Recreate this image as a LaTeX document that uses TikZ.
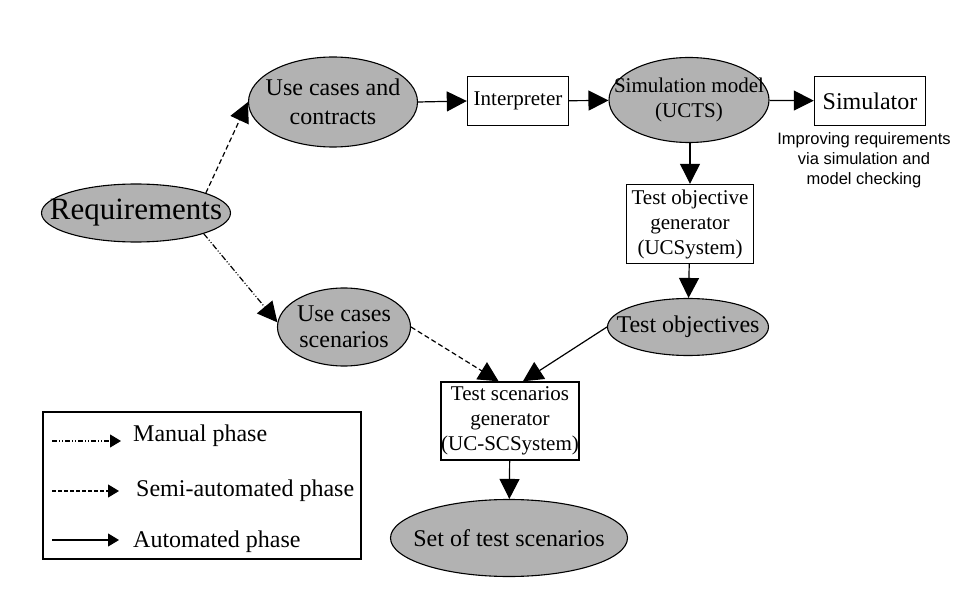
\documentclass[tikz,border=0pt]{standalone}
\usepackage{fontspec}
\setmainfont{Liberation Serif}
\newfontfamily\notefont{Liberation Sans}
\usepackage{xcolor}
\usepackage{tikz}
\usetikzlibrary{positioning}
\usetikzlibrary{arrows.meta,shapes}

\definecolor{ellgray}{RGB}{178,178,178}

\begin{document}
\begin{tikzpicture}[x=1pt, y=-1pt,
  phase/.style={ellipse, draw, line width=1.1pt, fill=ellgray, inner sep=0pt},
  phasetext/.style={align=center, inner sep=0pt},
  tool/.style={rectangle, draw, line width=1.4pt, fill=white, inner sep=0pt, align=center,
    font=\fontsize{21}{25}\selectfont},
  auto arrow/.style={draw, line width=1.2pt, -{Triangle[length=20pt,width=20pt]}},
  semi arrow/.style={auto arrow, dash pattern=on 5pt off 3pt},
  manual arrow/.style={auto arrow, dash pattern=on 6pt off 2pt on 1pt off 2pt on 1pt off 2pt},
  key arrow/.style={draw, line width=1.1pt, -{Triangle[length=11pt,width=13pt]}},
  keytext/.style={anchor=west, inner sep=0pt, font=\fontsize{24}{28}\selectfont}]
 \useasboundingbox (0,0) rectangle (977,612);

 %phases
 \node[phase, minimum width=189, minimum height=58,
   label={[phasetext, font=\fontsize{31}{34}\selectfont]center:Requirements}] (req) at (136,213) {};
 \node[phase, minimum width=169, minimum height=90,
   label={[phasetext, font=\fontsize{24}{29}\selectfont]center:Use cases and\\contracts}] (ucc) at (333,102) {};
 \node[phase, minimum width=160, minimum height=85,
   label={[phasetext, font=\fontsize{21}{25}\selectfont]center:Simulation model\\(UCTS)}] (sim) at (689,100) {};
 \node[phase, minimum width=161, minimum height=57,
   label={[phasetext, font=\fontsize{24}{28}\selectfont]center:Test objectives}] (tobj) at (688,327) {};
 \node[phase, minimum width=133, minimum height=78,
   label={[phasetext, font=\fontsize{24}{26}\selectfont]center:Use cases\\scenarios}] (ucs) at (344,327) {};
 \node[phase, minimum width=237, minimum height=77,
   label={[phasetext, font=\fontsize{24}{28}\selectfont]center:Set of test scenarios}] (set) at (509,538) {};

 %tools
 \node[tool, minimum width=101, minimum height=49] (interp) at (518,101) {Interpreter};
 \node[tool, minimum width=111, minimum height=49, font=\fontsize{24}{28}\selectfont] (simr) at (870,101) {Simulator};
 \node[tool, minimum width=127, minimum height=79] (tog) at (690,224) {Test objective\\generator\\(UCSystem)};
 \node[tool, minimum width=137, minimum height=78] (tsg) at (510,421) {Test scenarios\\generator\\(UC-SCSystem)};

 %note
 \node[align=center, inner sep=0pt, font=\notefont\fontsize{16.5}{20}\selectfont] (note) at (864,160)
   {Improving requirements\\via simulation and\\model checking};

 %lines
 \path[semi arrow] (req.16) -- (ucc.west);
 \path[manual arrow] (req.-17) -- (ucs.176);
 \path[auto arrow] (ucc.east) -- (interp.west);
 \path[auto arrow] (interp) -- (sim);
 \path[auto arrow] (sim) -- (simr);
 \path[auto arrow] (sim.south -| tog.north) -- (tog.north);
 \path[auto arrow] (tog) -- (tobj);
 \path[semi arrow] (ucs.east) -- (tsg.106);
 \path[auto arrow] (tobj.west) -- (tsg.72);
 \path[auto arrow] (tsg) -- (set);

 %legend
 \draw[line width=1.4pt] (43,412) rectangle (361,559);
 \coordinate (m1) at (52,441);  \coordinate (m2) at (121,441);
 \coordinate (s1) at (52,491);  \coordinate (s2) at (119,491);
 \coordinate (a1) at (52,540);  \coordinate (a2) at (119,540);
 \path[key arrow, dash pattern=on 5pt off 2pt on 1pt off 2pt on 1pt off 2pt] (m1) -- (m2);
 \path[key arrow, dash pattern=on 4pt off 2pt] (s1) -- (s2);
 \path[key arrow] (a1) -- (a2);
 \node[keytext] (kman) at (133,436) {Manual phase};
 \node[keytext] (ksemi) at (136,491) {Semi-automated phase};
 \node[keytext] (kauto) at (133,542) {Automated phase};

\end{tikzpicture}
\end{document}
